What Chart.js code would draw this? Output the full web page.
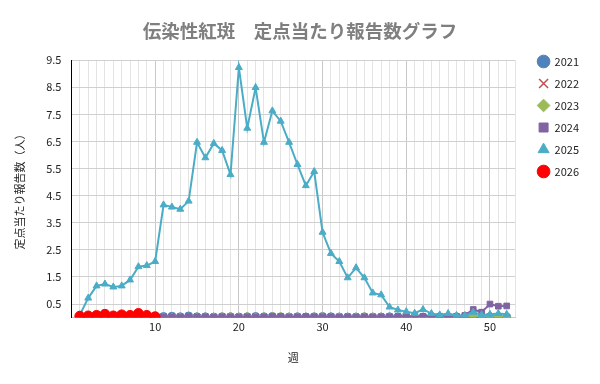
<!DOCTYPE html>
<html>
<head>
<meta charset="utf-8">
<script src="https://cdn.jsdelivr.net/npm/chart.js@4"></script>
<style>
  html, body { margin: 0; padding: 0; background: #fff; }
  #wrap { width: 600px; height: 384px; }
</style>
</head>
<body>
<div id="wrap"><canvas id="c"></canvas></div>
<script>
// Weekly values per year (week 1..52)
const weeks = Array.from({ length: 52 }, (_, i) => i + 1);
const yTicks = [0.5, 1.5, 2.5, 3.5, 4.5, 5.5, 6.5, 7.5, 8.5, 9.5];

const v2021 = [0.02,0.02,0.03,0.02,0.02,0.03,0.02,0.03,0.02,0.03,0.04,0.05,0.03,0.06,0.03,0.03,0.02,0.03,0.03,0.02,0.03,0.04,0.03,0.04,0.03,0.02,0.03,0.02,0.03,0.04,0.03,0.02,0.02,0.02,0.03,0.02,0.02,0.03,0.02,0.03,0.02,0.02,0.03,0.02,0.02,0.02,0.03,0.02,0.02,0.03,0.02,0.02];
const v2022 = [0.01,0.01,0.01,0.01,0.01,0.01,0.01,0.01,0.01,0.01,0.01,0.01,0.01,0.01,0.01,0.01,0.01,0.01,0.01,0.01,0.01,0.01,0.01,0.01,0.01,0.01,0.01,0.01,0.01,0.01,0.01,0.01,0.01,0.01,0.01,0.01,0.01,0.01,0.01,0.01,0.01,0.01,0.01,0.01,0.01,0.01,0.01,0.01,0.01,0.01,0.01,0.01];
const v2023 = [0.02,0.02,0.02,0.02,0.02,0.02,0.02,0.02,0.02,0.02,0.03,0.03,0.02,0.03,0.04,0.03,0.03,0.04,0.06,0.03,0.06,0.03,0.05,0.04,0.05,0.04,0.05,0.04,0.03,0.04,0.03,0.04,0.03,0.03,0.04,0.03,0.04,0.03,0.03,0.03,0.03,0.02,0.03,0.02,0.03,0.03,0.04,0.06,0.05,0.04,0.03,0.03];
const v2024 = [0.02,0.02,0.02,0.02,0.02,0.02,0.02,0.02,0.02,0.02,0.03,0.03,0.02,0.04,0.03,0.03,0.02,0.03,0.03,0.02,0.03,0.02,0.03,0.04,0.04,0.02,0.03,0.04,0.03,0.03,0.03,0.02,0.03,0.02,0.03,0.02,0.03,0.03,0.04,0.05,0.05,0.05,0.06,0.05,0.04,0.05,0.08,0.3,0.2,0.5,0.42,0.43];
const v2025 = [0.1,0.72,1.17,1.24,1.13,1.17,1.39,1.88,1.92,2.07,4.16,4.08,4.0,4.3,6.47,5.9,6.43,6.17,5.28,9.23,6.99,8.49,6.47,7.63,7.25,6.47,5.65,4.87,5.39,3.15,2.37,2.07,1.47,1.84,1.47,0.91,0.84,0.39,0.28,0.22,0.16,0.3,0.15,0.1,0.15,0.08,0.08,0.2,0.1,0.12,0.15,0.12];
const v2026 = [0.05,0.06,0.08,0.12,0.06,0.1,0.08,0.15,0.08,0.03];

const toXY = arr => arr.map((v, i) => ({ x: weeks[i], y: v }));

function series(label, data, color, style, radius, order) {
  return {
    label,
    data: toXY(data),
    borderColor: color,
    backgroundColor: color,
    pointStyle: style,
    pointRadius: radius,
    pointHoverRadius: radius,
    pointBorderWidth: style === 'crossRot' ? 1.5 : 1,
    borderWidth: 2,
    showLine: true,
    tension: 0,
    order
  };
}

// the legend sits a little away from the plot, level with its top;
// the title is centred on the whole canvas
const layoutNudge = {
  id: 'layoutNudge',
  afterLayout(chart) {
    const lg = chart.legend;
    if (lg) {
      lg.left += 12; lg.right += 12;
      lg.top += 37; lg.bottom += 37;
    }
    const t = chart.titleBlock;
    if (t) { t.left += 7; t.right += 7; }
  }
};

Chart.defaults.font.family = '"Noto Sans CJK JP", "Noto Sans", sans-serif';
Chart.defaults.color = '#222';

new Chart(document.getElementById('c'), {
  type: 'scatter',
  data: {
    datasets: [
      series('2021', v2021, '#4f81bd', 'circle', 4, 6),
      series('2022', v2022, '#c0504d', 'crossRot', 3.5, 5),
      series('2023', v2023, '#9bbb59', 'rectRot', 4, 4),
      series('2024', v2024, '#8064a2', 'rect', 4, 3),
      series('2025', v2025, '#4bacc6', 'triangle', 4, 2),
      series('2026', v2026, '#ff0000', 'circle', 5, 1)
    ]
  },
  plugins: [layoutNudge],
  options: {
    responsive: true,
    maintainAspectRatio: false,
    animation: false,
    layout: { padding: { top: 8, right: 23, left: 9, bottom: 16 } },
    plugins: {
      title: {
        display: true,
        text: '伝染性紅斑　定点当たり報告数グラフ',
        color: '#7f7f7f',
        font: { size: 18.5, weight: 'bold' },
        padding: { top: 12, bottom: 18 }
      },
      legend: {
        position: 'right',
        align: 'start',
        labels: {
          usePointStyle: true,
          boxWidth: 11,
          boxHeight: 9,
          padding: 11,
          font: { size: 11 },
          color: '#222',
          sort: (a, b) => a.datasetIndex - b.datasetIndex
        }
      },
      tooltip: { enabled: false }
    },
    scales: {
      x: {
        type: 'linear',
        min: 0,
        max: 53,
        ticks: {
          stepSize: 1,
          autoSkip: false,
          maxRotation: 0,
          font: { size: 11 },
          callback: v => (v % 10 === 0 && v > 0 ? v : '')
        },
        grid: {
          color: ctx => (ctx.tick && ctx.tick.value % 10 === 0 ? '#c8c8c8' : '#e4e4e4'),
          drawTicks: false
        },
        border: { color: '#c8c8c8' },
        title: { display: true, text: '週', font: { size: 11 }, padding: { top: 14 } }
      },
      y: {
        min: 0,
        max: 9.5,
        afterBuildTicks: axis => { axis.ticks = yTicks.map(v => ({ value: v })); },
        ticks: { font: { size: 11 }, padding: 10, callback: v => v.toFixed(1) },
        grid: { color: '#d0d0d0', drawTicks: false },
        border: { color: '#000' },
        title: { display: true, text: '定点当たり報告数（人）', font: { size: 11 }, padding: { bottom: 10 } }
      }
    }
  }
});
</script>
</body>
</html>
